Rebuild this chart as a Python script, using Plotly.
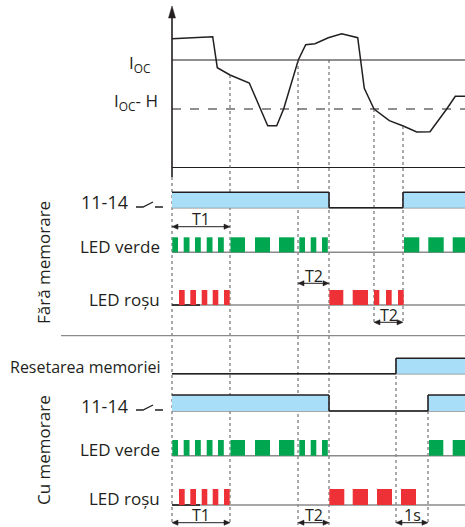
import plotly.graph_objects as go

# ---------------- data ----------------
# time in arbitrary units, t = 0 at the vertical axis
T_END = 293
curve_t = [0, 40.7, 45.3, 58, 77.3, 95.7, 104.7, 111.7, 126.3, 133.7, 143, 156.3, 169.7,
           185.7, 192.3, 202, 217.3, 231.3, 244.7, 258, 274.7, 283.3, 293]
curve_i = [129.3, 131.3, 100.3, 93, 85, 42.3, 42.3, 59.3, 108, 123.3, 124.3, 130.3, 134.3,
           130.3, 79.7, 59, 47.3, 42, 36, 36.3, 59, 71.7, 71.7]
I_OC = 108
I_OC_H = 59

# events
T1_END = 58
T2A_START, RELAY_OFF = 126, 157
T2B_START, RELAY_ON_NOMEM = 202, 231
RESET_ON, RELAY_ON_MEM = 224, 256

relay_nomem = [(0, RELAY_OFF), (RELAY_ON_NOMEM, T_END)]
relay_mem = [(0, RELAY_OFF), (RELAY_ON_MEM, T_END)]
reset_mem = [(RESET_ON, T_END)]

green_common = [(0.3, 6), (11.7, 17.5), (23, 28.8), (34.7, 40.5), (46, 51.8), (58.5, 73), (83, 98),
                (107, 122.3), (127.3, 133), (138.7, 144.3), (150, 155.8)]
red_common = [(7, 12.7), (18.3, 24), (29.7, 35.3), (40.7, 46.3), (52, 57.7)]
green_nomem = green_common + [(232, 247.3), (256.3, 271.7), (280.7, 293)]
red_nomem = red_common + [(157.3, 171.3), (180.7, 196), (202, 207.3), (214, 219.7), (226, 231.7)]
green_mem = green_common + [(257, 271.3), (280.7, 293)]
red_mem = red_common + [(157.3, 172.3), (180.7, 196), (205, 220), (229, 244)]

# ---------------- layout constants ----------------
W, H = 465, 527
X0 = 172  # pixel of t=0
TXT = "#231f20"
GRAY = "#8a8a8a"
BLUE = "#a8def7"
GREEN = "#00a650"
RED = "#ee3137"
FONT = "Open Sans"

fig = go.Figure()
shapes = []
ann = []

def line(x0, y0, x1, y1, color=TXT, width=1.3, dash=None, yref="y"):
    d = dict(type="line", xref="x", yref=yref, x0=x0, y0=y0, x1=x1, y1=y1,
             line=dict(color=color, width=width))
    if dash:
        d["line"]["dash"] = dash
    shapes.append(d)

def rect(x0, y0, x1, y1, color):
    shapes.append(dict(type="rect", xref="x", yref="y", x0=x0, y0=y0, x1=x1, y1=y1,
                       fillcolor=color, line=dict(width=0), layer="above"))

def tri(path):
    shapes.append(dict(type="path", xref="x", yref="y", path=path, fillcolor=TXT,
                       line=dict(color=TXT, width=0.5)))

def text(x, y, s, size=16, xanchor="right", angle=0):
    ann.append(dict(x=x, y=y, xref="x", yref="y", text=s, showarrow=False, xanchor=xanchor,
                    yanchor="middle", textangle=angle, font=dict(family=FONT, size=size, color=TXT)))

def darrow(t0, t1, y, label):
    line(t0 + 2, y, t1 - 2, y, width=1)
    tri(f"M {t0},{y} L {t0+6},{y-2.6} L {t0+6},{y+2.6} Z")
    tri(f"M {t1},{y} L {t1-6},{y-2.6} L {t1-6},{y+2.6} Z")
    text((t0 + t1) / 2, y - 7.5, label, size=16, xanchor="center")

# ---- current curve ----
fig.add_trace(go.Scatter(x=curve_t, y=curve_i, mode="lines", yaxis="y2",
                         line=dict(color=TXT, width=1.5), hoverinfo="skip", showlegend=False))
line(0, I_OC, T_END, I_OC, width=1.2, yref="y2")
line(0, I_OC_H, T_END, I_OC_H, width=1.2, dash="dash", yref="y2")
line(0, 0, T_END, 0, width=2, yref="y2")
# vertical axis with arrow
line(0, 177, 0, 16, width=1.6)
tri("M 0,6 L -3.5,18 L 3.5,18 Z")
text(-19, 63, "I<sub>OC</sub>", size=17)
text(-12, 101, "I<sub>OC</sub>- H", size=17)

# ---- dotted verticals ----
for t, y0, y1 in [(0, 177, 525), (T1_END, 75, 525), (T2A_START, 60, 525), (RELAY_OFF, 60, 525),
                  (T2B_START, 109, 323), (RELAY_ON_NOMEM, 126, 322),
                  (RESET_ON, 358, 525), (RELAY_ON_MEM, 411, 525)]:
    line(t, y0, t, y1, color="#555555", width=1, dash="dot")

# ---- digital rows ----
def relay_row(segs, top, base):
    line(0, base, T_END, base, color=GRAY, width=1.5)
    prev_end = 0
    for a, b in segs:
        rect(a, top, b, base, BLUE)
        if a > prev_end:
            line(prev_end, base, a, base, width=1.6)
            line(a, base, a, top, width=1.6)
        line(a, top, b, top, width=1.6)
        if b < T_END:
            line(b, top, b, base, width=1.6)
        prev_end = b
    if prev_end < T_END:
        line(prev_end, base, T_END, base, width=1.6)

def led_row(segs, top, base, color, black=False):
    line(0, base, T_END, base, color=GRAY, width=1.5)
    if black:
        line(0, base, 28, base, width=1.6)
    for a, b in segs:
        rect(a, top, b, base, color)

def switch(y, xr):
    shapes.append(dict(type="path", xref="x", yref="y",
                       path=f"M {xr-27},{y} L {xr-20},{y} L {xr-10},{y-5} M {xr-8},{y} L {xr},{y}",
                       line=dict(color=TXT, width=1.3)))

# Fara memorare
relay_row(relay_nomem, 192.3, 207.7)
text(-42, 201.5, "11-14", size=18)
switch(207, -9)
led_row(green_nomem, 237.3, 252.3, GREEN)
text(-10, 246, "LED verde", size=17)
led_row(red_nomem, 290, 305, RED, black=True)
text(-10, 299, "LED roșu", size=17)
darrow(0, T1_END, 226.7, "T1")
darrow(T2A_START, RELAY_OFF, 283.3, "T2")
darrow(T2B_START, RELAY_ON_NOMEM, 322.3, "T2")

line(-111, 335.7, T_END, 335.7, color=GRAY, width=1.3)

# Cu memorare
relay_row(reset_mem, 358.3, 373.7)
text(-10, 367, "Resetarea memoriei", size=16)
relay_row(relay_mem, 395, 411)
text(-42, 405.5, "11-14", size=18)
switch(410, -9)
led_row(green_mem, 440, 455.7, GREEN)
text(-10, 449.5, "LED verde", size=17)
led_row(red_mem, 489, 505, RED, black=True)
text(-10, 498.5, "LED roșu", size=17)
darrow(0, T1_END, 522.7, "T1")
darrow(T2A_START, RELAY_OFF, 522.7, "T2")
darrow(RESET_ON, RELAY_ON_MEM, 522.7, "1s")

text(-129, 263, "Fără memorare", size=17, xanchor="center", angle=-90)
text(-129, 450, "Cu memorare", size=17, xanchor="center", angle=-90)

fig.update_layout(
    width=W, height=H, margin=dict(l=0, r=0, t=0, b=0),
    paper_bgcolor="white", plot_bgcolor="white",
    xaxis=dict(range=[-X0, W - X0], visible=False, fixedrange=True),
    yaxis=dict(range=[H, 0], visible=False, domain=[0, 1], fixedrange=True),
    yaxis2=dict(range=[0, 161], visible=False, domain=[(H - 168) / H, (H - 7) / H], anchor="x"),
    shapes=shapes, annotations=ann, showlegend=False,
)
fig.write_html("out.html", config={"displayModeBar": False},
               post_script="document.body.style.margin='0px';document.body.style.overflow='hidden';")
